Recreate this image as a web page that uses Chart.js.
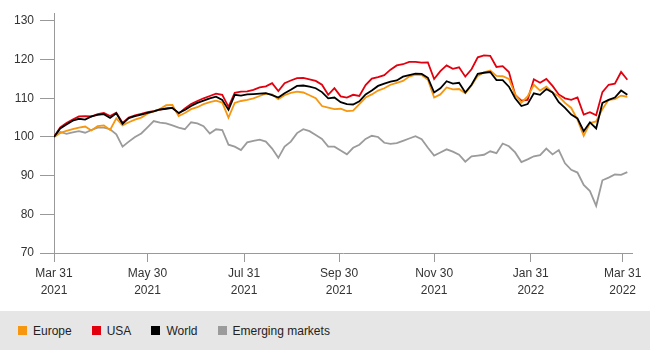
<!DOCTYPE html>
<html>
<head>
<meta charset="utf-8">
<script src="https://cdn.jsdelivr.net/npm/chart.js@4.4.1/dist/chart.umd.min.js"></script>
<style>
  html, body { margin: 0; padding: 0; background: #fff; }
  #wrap { position: relative; width: 650px; height: 350px; font-family: "Liberation Sans", Arial, sans-serif; }
  #c { position: absolute; left: 0; top: 0; }
  #legend { position: absolute; left: 0; top: 311px; width: 650px; height: 39px; background: #e6e6e6;
            display: flex; align-items: center; padding-left: 18px; box-sizing: border-box; gap: 20px;
            font-size: 12px; color: #222; }
  .item { display: flex; align-items: center; }
  .sw { width: 9px; height: 9px; margin-right: 6px; }
</style>
</head>
<body>
<div id="wrap">
  <canvas id="c" width="650" height="311"></canvas>
  <div id="legend"></div>
</div>
<script>
// Days since Mar 31 2021
const days = [0,4,8,12,16,20,24,28,32,36,40,44,48,52,56,60,64,68,72,76,80,84,88,92,96,100,104,108,112,116,120,124,128,132,136,140,144,148,152,156,160,164,168,172,176,180,184,188,192,196,200,204,208,212,216,220,224,228,232,236,240,244,248,252,256,260,264,268,272,276,280,284,288,292,296,300,304,308,312,316,320,324,328,332,336,340,344,348,352,356,360,364,368];

const europe = [100,101.0,101.6,102.0,102.4,102.7,101.7,102.8,103.0,101.8,104.8,103.0,103.8,104.5,105.0,106.0,106.6,107.2,108.2,108.3,105.4,106.2,107.2,107.7,108.5,109.0,109.4,108.9,105.0,108.8,109.3,109.6,110.0,110.6,111.2,111.0,109.8,110.8,111.4,111.7,111.5,110.8,110.0,108.0,107.6,107.2,107.3,106.7,106.8,108.5,110.2,111.0,112.0,112.6,113.5,114.0,114.5,115.6,116.1,116.0,114.8,110.2,111.0,112.8,112.3,112.4,111.3,113.3,115.8,116.7,117.2,115.8,115.7,115.0,111.0,108.9,110.5,113.5,112.0,113.0,111.5,110.5,108.8,107.5,104.5,100.3,103.6,104.0,107.2,109.6,109.8,110.7,110.4];

const usa = [100,102.5,103.6,104.5,105.3,105.4,105.3,105.9,106.2,105.4,106.3,103.6,105.0,105.6,106.0,106.4,106.7,107.1,107.4,107.6,106.0,107.4,108.5,109.3,110.0,110.6,111.2,110.9,107.8,111.4,111.7,111.8,112.2,112.8,113.1,113.9,111.9,113.9,114.6,115.2,115.3,114.9,114.5,113.5,110.9,112.6,110.5,110.2,110.9,110.6,113.4,115.1,115.5,116.0,117.4,118.5,118.8,119.4,119.4,119.2,119.3,115.0,117.0,118.5,117.6,118.0,115.6,117.5,120.6,121.1,121.0,118.1,118.3,116.8,110.9,109.4,109.6,114.9,114.0,115.0,113.2,111.0,110.0,109.6,110.2,105.8,106.4,105.6,111.6,113.5,113.8,116.8,114.8];

const world = [100,102.2,103.2,104.2,104.7,104.5,105.3,105.7,105.9,104.9,106.1,103.4,104.9,105.4,105.8,106.2,106.6,107.1,107.3,107.5,106.2,107.0,108.0,108.8,109.4,110.0,110.4,109.6,107.0,110.9,110.7,111.0,111.1,111.2,111.3,110.8,110.2,111.3,112.2,113.2,113.3,113.0,112.6,111.6,110.0,110.2,109.0,108.5,108.4,109.2,111.0,112.0,113.2,113.8,114.3,114.6,115.6,116.0,116.4,116.3,115.3,111.5,112.6,114.4,113.8,114.0,111.5,113.5,116.3,116.6,116.8,114.7,114.7,113.0,110.0,108.0,108.5,111.3,110.9,112.4,111.5,109.0,107.5,105.8,104.8,101.5,103.8,102.2,108.8,109.6,110.2,112.0,110.9];

const emerging = [100,101.3,100.8,101.2,101.5,101.1,101.8,102.4,102.4,102.0,100.7,97.5,98.8,100.0,100.9,102.5,104.1,103.7,103.5,103.0,102.4,102.0,103.8,103.5,102.8,100.9,102.0,101.8,98.0,97.5,96.6,98.6,99.0,99.3,98.8,97.0,94.6,97.5,98.8,101.0,102.0,101.5,100.5,99.5,97.5,97.5,96.5,95.5,97.2,98.0,99.5,100.3,100.0,98.5,98.2,98.4,99.0,99.6,100.2,99.4,97.2,95.2,96.0,96.8,96.2,95.4,93.6,95.0,95.2,95.4,96.3,95.8,98.3,97.6,96.0,93.5,94.2,95.0,95.3,97.0,95.5,96.6,93.2,91.5,90.8,87.6,86.0,82.2,88.8,89.5,90.3,90.2,90.9];

const seriesNames = ['Europe', 'USA', 'World', 'Emerging markets'];
const seriesColors = ['#f7960f', '#e2000f', '#000000', '#9b9b9b'];
const seriesValues = [europe, usa, world, emerging];
const drawOrder = [1, 2, 0, 3]; // lower = drawn on top

const tickDays = [0, 60, 122, 183, 244, 306, 365];
const tickLabels = [['Mar 31','2021'],['May 30','2021'],['Jul 31','2021'],['Sep 30','2021'],['Nov 30','2021'],['Jan 31','2022'],['Mar 31','2022']];
const yTicks = [70, 80, 90, 100, 110, 120, 130];

const datasets = seriesNames.map((name, i) => ({
  label: name,
  data: days.map((d, j) => ({ x: d, y: seriesValues[i][j] })),
  borderColor: seriesColors[i],
  backgroundColor: seriesColors[i],
  borderWidth: 1.8,
  pointRadius: 0,
  tension: 0,
  order: drawOrder[i]
}));

const axisColor = '#999';
const font = { family: '"Liberation Sans", Arial, sans-serif', size: 12 };

new Chart(document.getElementById('c'), {
  type: 'line',
  data: { datasets },
  options: {
    responsive: false,
    animation: false,
    layout: { padding: { left: 0, right: 18, top: 10, bottom: 0 } },
    plugins: { legend: { display: false }, tooltip: { enabled: false } },
    scales: {
      x: {
        type: 'linear',
        min: 0,
        max: 371,
        afterBuildTicks: (axis) => { axis.ticks = tickDays.map(v => ({ value: v })); },
        afterFit: (axis) => { axis.height = 58; },
        ticks: {
          autoSkip: false,
          maxRotation: 0,
          padding: 3,
          color: '#333',
          font: Object.assign({ lineHeight: 1.45 }, font),
          callback: (v) => { const k = tickDays.indexOf(v); return k >= 0 ? tickLabels[k] : ''; }
        },
        grid: { drawOnChartArea: false, drawTicks: true, tickLength: 9, color: axisColor, lineWidth: 1 },
        border: { display: true, color: axisColor, width: 1 }
      },
      y: {
        min: 70,
        max: 132,
        afterBuildTicks: (axis) => { axis.ticks = yTicks.map(v => ({ value: v })); },
        afterFit: (axis) => { axis.width = 54; },
        ticks: { padding: 6, color: '#333', font },
        grid: { drawOnChartArea: false, drawTicks: true, tickLength: 14, color: axisColor, lineWidth: 1 },
        border: { display: true, color: axisColor, width: 1 }
      }
    }
  }
});

// HTML legend built from the series arrays
const legend = document.getElementById('legend');
seriesNames.forEach((name, i) => {
  const item = document.createElement('div');
  item.className = 'item';
  const sw = document.createElement('span');
  sw.className = 'sw';
  sw.style.background = seriesColors[i];
  const t = document.createElement('span');
  t.textContent = name;
  item.appendChild(sw);
  item.appendChild(t);
  legend.appendChild(item);
});
</script>
</body>
</html>
